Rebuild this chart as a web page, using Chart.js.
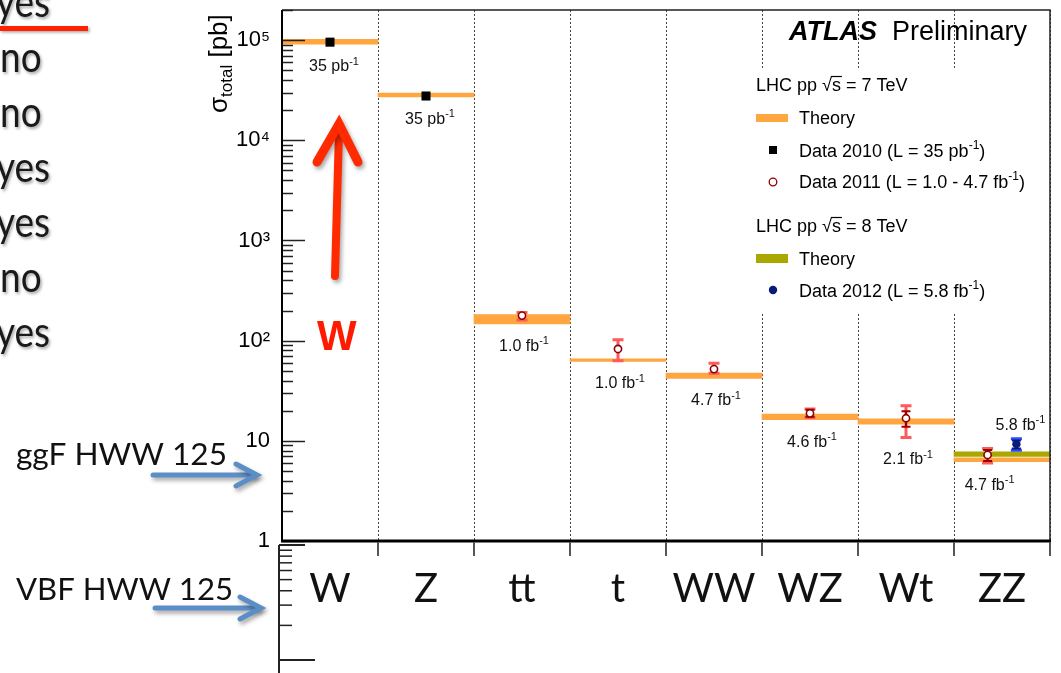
<!DOCTYPE html>
<html><head><meta charset="utf-8">
<script src="https://cdn.jsdelivr.net/npm/chart.js@4.4.1/dist/chart.umd.min.js"></script>
<style>html,body{margin:0;padding:0;background:#fff;overflow:hidden}#wrap{position:relative;width:1061px;height:673px}</style>
</head><body><div id="wrap"><canvas id="c" width="1061" height="673"></canvas></div>
<script>
// ---------- data (pb) ----------
const categories = ['W', 'Z', 'tt', 't', 'WW', 'WZ', 'Wt', 'ZZ'];
const theory7Low  = [91000, 27100, 147, 62, 42.0, 16.3, 14.7, 6.20];
const theory7High = [102000, 29700, 182, 66, 47.5, 18.5, 16.6, 6.75];
const theory8Low  = [null, null, null, null, null, null, null, 6.97];
const theory8High = [null, null, null, null, null, null, null, 7.76];
const data2010 = [95500, 27700, null, null, null, null, null, null];
const data2011 = [null, null, 178, 82.6, 52.0, 18.8, 16.8, 7.24];
const err2011Lo = [null, null, 161, 63, 47.3, 17.1, 10.8, 6.0];
const err2011Hi = [null, null, 191, 102, 59.4, 20.8, 22.4, 8.4];
const stat2011Lo = [null, null, null, null, null, 17.4, 13.8, 6.3];
const stat2011Hi = [null, null, null, null, null, 20.4, 19.7, 8.1];
const data2012 = [null, null, null, null, null, null, null, 9.27];
const err2012Lo = [null, null, null, null, null, null, null, 8.07];
const err2012Hi = [null, null, null, null, null, null, null, 10.5];
const stat2012Lo = [null, null, null, null, null, null, null, 8.4];
const stat2012Hi = [null, null, null, null, null, null, null, 10.1];
const lumi2010 = ['35 pb', '35 pb', null, null, null, null, null, null];
const lumi2011 = [null, null, '1.0 fb', '1.0 fb', '4.7 fb', '4.6 fb', '2.1 fb', '4.7 fb'];
const lumi2012 = [null, null, null, null, null, null, null, '5.8 fb'];
const yTickValues = [1, 10, 100, 1000, 10000, 100000];
const slideList = ['yes', 'no', 'no', 'yes', 'yes', 'no', 'yes'];
const legendTexts = {
  head7: 'LHC pp √s = 7 TeV', head8: 'LHC pp √s = 8 TeV', theory: 'Theory',
  d2010: ['Data 2010 (L = 35 pb', ')'], d2011: ['Data 2011 (L = 1.0 - 4.7 fb', ')'], d2012: ['Data 2012 (L = 5.8 fb', ')']
};

// ---------- helpers ----------
const FONT = '"Liberation Sans", Arial, sans-serif';
const binX = i => i + 0.5;
const x2011 = i => binX(i) - (data2012[i] != null ? 0.15 : 0);
const x2012 = i => binX(i) + (data2011[i] != null ? 0.15 : 0);
const supMap = {'0':'⁰','1':'¹','2':'²','3':'³','4':'⁴','5':'⁵','6':'⁶','7':'⁷','8':'⁸','9':'⁹'};
function tickLabel(v) {
  const e = Math.round(Math.log10(v));
  if (e === 0) return '1';
  if (e === 1) return '10';
  return '10' + String(e).split('').map(c => supMap[c]).join('');
}
function textSup(ctx, base, sup, after, x, y, size, align) {
  ctx.font = size + 'px ' + FONT;
  const wb = ctx.measureText(base).width;
  const ss = Math.round(size * 0.68);
  ctx.font = ss + 'px ' + FONT;
  const ws = ctx.measureText(sup).width;
  ctx.font = size + 'px ' + FONT;
  const wa = after ? ctx.measureText(after).width : 0;
  const w = wb + ws + wa;
  let x0 = align === 'center' ? x - w / 2 : x;
  ctx.textAlign = 'left';
  ctx.fillText(base, x0, y);
  ctx.font = ss + 'px ' + FONT;
  ctx.fillText(sup, x0 + wb, y - size * 0.42);
  if (after) { ctx.font = size + 'px ' + FONT; ctx.fillText(after, x0 + wb + ws, y); }
  return w;
}
function fitText(ctx, text, x, y, font, hscale) {
  ctx.save(); ctx.font = font; ctx.translate(x, y); ctx.scale(hscale, 1);
  ctx.textAlign = 'left'; ctx.fillText(text, 0, 0); ctx.restore();
}
function fitWidth(ctx, text, x, y, font, width) {
  ctx.save(); ctx.font = font; const m = ctx.measureText(text).width;
  ctx.translate(x, y); ctx.scale(width / m, 1); ctx.textAlign = 'left'; ctx.fillText(text, 0, 0); ctx.restore();
}
function arrowLine(ctx, x1, y1, x2, y2, hx, hy, color, lw, headLw) {
  ctx.save();
  ctx.strokeStyle = color; ctx.lineCap = 'round'; ctx.lineJoin = 'miter';
  ctx.shadowColor = 'rgba(0,0,0,0.35)'; ctx.shadowBlur = 4; ctx.shadowOffsetX = 2; ctx.shadowOffsetY = 3;
  ctx.lineWidth = lw;
  ctx.beginPath(); ctx.moveTo(x1, y1); ctx.lineTo(x2, y2); ctx.stroke();
  ctx.lineWidth = headLw;
  ctx.beginPath(); ctx.moveTo(hx[0], hy[0]); ctx.lineTo(hx[1], hy[1]); ctx.lineTo(hx[2], hy[2]); ctx.stroke();
  ctx.restore();
}

// ---------- error bars ----------
function drawErrors(chart, xf, vals, lo, hi, slo, shi, outer, inner) {
  const ctx = chart.ctx, xs = chart.scales.x, ys = chart.scales.y;
  ctx.save(); ctx.lineCap = 'butt';
  vals.forEach((v, i) => {
    if (v == null || lo[i] == null) return;
    const px = xs.getPixelForValue(xf(i));
    const a = ys.getPixelForValue(lo[i]), b = ys.getPixelForValue(hi[i]);
    ctx.strokeStyle = outer; ctx.lineWidth = 3;
    ctx.beginPath(); ctx.moveTo(px, a); ctx.lineTo(px, b);
    ctx.moveTo(px - 5.5, a); ctx.lineTo(px + 5.5, a); ctx.moveTo(px - 5.5, b); ctx.lineTo(px + 5.5, b); ctx.stroke();
    if (slo[i] != null) {
      const c = ys.getPixelForValue(slo[i]), d = ys.getPixelForValue(shi[i]);
      ctx.strokeStyle = inner; ctx.lineWidth = 2;
      ctx.beginPath(); ctx.moveTo(px, c); ctx.lineTo(px, d);
      ctx.moveTo(px - 4.5, c); ctx.lineTo(px + 4.5, c); ctx.moveTo(px - 4.5, d); ctx.lineTo(px + 4.5, d); ctx.stroke();
    }
  });
  ctx.restore();
}

const errorPlugin = {
  id: 'errorBars',
  beforeDatasetDraw(chart, args) {
    const lab = chart.data.datasets[args.index].label;
    if (lab === 'Data 2011') drawErrors(chart, x2011, data2011, err2011Lo, err2011Hi, stat2011Lo, stat2011Hi, '#ff5a5a', '#9a0000');
    if (lab === 'Data 2012') drawErrors(chart, x2012, data2012, err2012Lo, err2012Hi, stat2012Lo, stat2012Hi, '#2f4bff', '#0a1a7a');
  }
};

// ---------- decorations / slide ----------
const slidePlugin = {
  id: 'slide',
  afterDraw(chart) {
    const ctx = chart.ctx, ca = chart.chartArea, xs = chart.scales.x, ys = chart.scales.y;
    ctx.save();
    // inward y ticks
    ctx.strokeStyle = '#222'; ctx.lineWidth = 1.5;
    for (let d = 0; d <= 5; d++) {
      for (let k = 1; k <= 9; k++) {
        const v = k * Math.pow(10, d);
        if (v > ys.max) continue;
        const py = Math.round(ys.getPixelForValue(v)) + 0.5;
        const len = k === 1 ? 23 : 11;
        ctx.beginPath(); ctx.moveTo(ca.left, py); ctx.lineTo(ca.left + len, py); ctx.stroke();
      }
    }
    // frame
    ctx.strokeStyle = '#222'; ctx.lineWidth = 1.5;
    ctx.beginPath(); ctx.moveTo(ca.left, ca.top); ctx.lineTo(ca.right, ca.top); ctx.lineTo(ca.right, ca.bottom); ctx.stroke();
    ctx.strokeStyle = '#000'; ctx.lineWidth = 2;
    ctx.beginPath(); ctx.moveTo(ca.left, ca.top); ctx.lineTo(ca.left, ca.bottom); ctx.stroke();
    ctx.lineWidth = 3;
    ctx.beginPath(); ctx.moveTo(ca.left - 1, ca.bottom); ctx.lineTo(ca.right + 1, ca.bottom); ctx.stroke();
    // ticks below x axis at bin edges
    ctx.strokeStyle = '#555'; ctx.lineWidth = 2;
    for (let i = 1; i <= categories.length; i++) {
      const px = xs.getPixelForValue(i);
      ctx.beginPath(); ctx.moveTo(px, ca.bottom + 1); ctx.lineTo(px, ca.bottom + 15); ctx.stroke();
    }
    // lower mini log axis (slide fragment)
    const mx = ca.left - 3, mTop = ca.bottom + 4, mBot = ca.bottom + 119;
    ctx.strokeStyle = '#222'; ctx.lineWidth = 2;
    ctx.beginPath(); ctx.moveTo(mx, mTop); ctx.lineTo(mx, 673); ctx.stroke();
    ctx.beginPath(); ctx.moveTo(mx, mTop); ctx.lineTo(mx + 26, mTop); ctx.stroke();
    ctx.beginPath(); ctx.moveTo(mx, mBot); ctx.lineTo(mx + 36, mBot); ctx.stroke();
    ctx.lineWidth = 1.5;
    for (let k = 2; k <= 9; k++) {
      const py = mBot - Math.log10(k) * (mBot - mTop);
      ctx.beginPath(); ctx.moveTo(mx, py); ctx.lineTo(mx + 13, py); ctx.stroke();
    }

    // y title
    ctx.fillStyle = '#000'; ctx.textBaseline = 'alphabetic';
    ctx.save(); ctx.translate(227, 113); ctx.rotate(-Math.PI / 2);
    ctx.font = '26px ' + FONT; ctx.textAlign = 'left';
    ctx.fillText('σ', 0, 0); const w1 = ctx.measureText('σ').width;
    ctx.font = '17px ' + FONT; ctx.fillText('total', w1, 5); const w2 = ctx.measureText('total').width;
    ctx.font = '26px ' + FONT; ctx.fillText(' [pb]', w1 + w2, 0);
    ctx.restore();

    // luminosity labels
    ctx.fillStyle = '#111';
    categories.forEach((c, i) => {
      const bandBottom = ys.getPixelForValue(theory7Low[i]);
      if (lumi2010[i]) {
        textSup(ctx, lumi2010[i], '-1', null, xs.getPixelForValue(binX(i)) + 4, bandBottom + 27, 16, 'center');
      }
      if (lumi2011[i]) {
        let bottom = bandBottom;
        if (err2011Lo[i] != null) bottom = Math.max(bottom, ys.getPixelForValue(err2011Lo[i]));
        textSup(ctx, lumi2011[i], '-1', null, xs.getPixelForValue(x2011(i)) + 2, bottom + 27, 16, 'center');
      }
      if (lumi2012[i]) {
        const top = ys.getPixelForValue(err2012Hi[i]);
        textSup(ctx, lumi2012[i], '-1', null, xs.getPixelForValue(x2012(i)) + 4, top - 9, 16, 'center');
      }
    });

    // ATLAS label
    ctx.fillStyle = '#000';
    ctx.font = 'italic bold 27px ' + FONT; ctx.textAlign = 'left';
    ctx.fillText('ATLAS', 789, 40);
    ctx.font = '27px ' + FONT; ctx.fillText('Preliminary', 892, 40);

    // legend box
    ctx.fillStyle = '#fff'; ctx.fillRect(748, 68, 300, 244);
    ctx.fillStyle = '#000';
    const lx = 756, tx = 799;
    function head(txt, y) {
      ctx.font = '18px ' + FONT; ctx.textAlign = 'left';
      ctx.fillText(txt, lx, y);
      const pre = txt.slice(0, txt.indexOf('√') + 1);
      const xs0 = lx + ctx.measureText(pre).width, xs1 = lx + ctx.measureText(pre + 's').width;
      ctx.strokeStyle = '#000'; ctx.lineWidth = 1.2;
      ctx.beginPath(); ctx.moveTo(xs0 - 1, y - 14.5); ctx.lineTo(xs1 + 1, y - 14.5); ctx.stroke();
    }
    head(legendTexts.head7, 91);
    ctx.fillStyle = '#ffa640'; ctx.fillRect(lx, 114, 32, 8);
    ctx.fillStyle = '#000'; ctx.font = '18px ' + FONT; ctx.fillText(legendTexts.theory, tx, 124);
    ctx.fillRect(769, 146, 8, 8);
    textSup(ctx, legendTexts.d2010[0], '-1', legendTexts.d2010[1], tx, 157, 18, 'left');
    ctx.strokeStyle = '#8b0000'; ctx.lineWidth = 1.3; ctx.fillStyle = '#fff';
    ctx.beginPath(); ctx.arc(773, 182, 3.8, 0, Math.PI * 2); ctx.fill(); ctx.stroke();
    ctx.fillStyle = '#000';
    textSup(ctx, legendTexts.d2011[0], '-1', legendTexts.d2011[1], tx, 188, 18, 'left');
    head(legendTexts.head8, 232);
    ctx.fillStyle = '#a8a800'; ctx.fillRect(lx, 254, 32, 9);
    ctx.fillStyle = '#000'; ctx.font = '18px ' + FONT; ctx.fillText(legendTexts.theory, tx, 265);
    ctx.fillStyle = '#0a1a7a'; ctx.beginPath(); ctx.arc(773, 290, 4.2, 0, Math.PI * 2); ctx.fill();
    ctx.fillStyle = '#000';
    textSup(ctx, legendTexts.d2012[0], '-1', legendTexts.d2012[1], tx, 297, 18, 'left');

    // ---- slide annotations ----
    ctx.save();
    ctx.shadowColor = 'rgba(0,0,0,0.35)'; ctx.shadowBlur = 3; ctx.shadowOffsetX = 1.5; ctx.shadowOffsetY = 1.5;
    ctx.fillStyle = '#1a1a1a';
    slideList.forEach((t, i) => {
      fitText(ctx, t, t === 'yes' ? -4 : 0, 17 + 55 * i, '43px Lato', 0.86);
    });
    ctx.fillStyle = '#ff2200'; ctx.fillRect(0, 26, 88, 5);
    ctx.restore();

    ctx.fillStyle = '#111';
    fitWidth(ctx, 'ggF HWW 125', 16, 465, '31px Lato', 211);
    fitWidth(ctx, 'VBF HWW 125', 16, 600, '31px Lato', 217);
    arrowLine(ctx, 153, 475, 254, 475, [236, 257, 236], [464, 475, 486], '#5b8ec7', 5, 5);
    arrowLine(ctx, 155, 608, 258, 608, [240, 261, 240], [597, 608, 619], '#5b8ec7', 5, 5);

    arrowLine(ctx, 335, 276, 339, 130, [317, 339, 358], [162, 124, 162], '#ff2a00', 8, 9);
    ctx.fillStyle = '#ff1a00'; ctx.font = 'bold 42px ' + FONT; ctx.textAlign = 'left';
    ctx.fillText('W', 317, 350);
    ctx.restore();
  }
};

Chart.defaults.font.family = FONT;
const common = { grouped: false, barPercentage: 1, categoryPercentage: 1, borderWidth: 0 };
new Chart(document.getElementById('c'), {
  type: 'bar',
  data: {
    datasets: [
      Object.assign({ label: 'Theory 7 TeV', backgroundColor: '#ffa640', order: 5,
        data: categories.map((c, i) => ({ x: binX(i), y: [theory7Low[i], theory7High[i]] })) }, common),
      Object.assign({ label: 'Theory 8 TeV', backgroundColor: '#a8a800', order: 4,
        data: categories.map((c, i) => theory8Low[i] == null ? null : ({ x: binX(i), y: [theory8Low[i], theory8High[i]] })).filter(Boolean) }, common),
      { type: 'line', label: 'Data 2010', showLine: false, order: 3,
        data: categories.map((c, i) => data2010[i] == null ? null : ({ x: binX(i), y: data2010[i] })).filter(Boolean),
        pointStyle: 'rect', pointRadius: 6.4, pointBackgroundColor: '#000', pointBorderWidth: 0 },
      { type: 'line', label: 'Data 2011', showLine: false, order: 2,
        data: categories.map((c, i) => data2011[i] == null ? null : ({ x: x2011(i), y: data2011[i] })).filter(Boolean),
        pointStyle: 'circle', pointRadius: 3.6, pointBackgroundColor: '#fff', pointBorderColor: '#8b0000', pointBorderWidth: 1.6 },
      { type: 'line', label: 'Data 2012', showLine: false, order: 1,
        data: categories.map((c, i) => data2012[i] == null ? null : ({ x: x2012(i), y: data2012[i] })).filter(Boolean),
        pointStyle: 'circle', pointRadius: 4.2, pointBackgroundColor: '#0a1a7a', pointBorderWidth: 0 }
    ]
  },
  options: {
    responsive: false, animation: false, devicePixelRatio: 1,
    layout: { padding: { left: 0, right: 11, top: 10, bottom: 32 } },
    plugins: { legend: { display: false }, tooltip: { enabled: false } },
    scales: {
      x: { type: 'linear', min: 0, max: categories.length, offset: false,
        ticks: { display: false, stepSize: 1 },
        grid: { color: '#444', lineWidth: 1, drawTicks: false, offset: false },
        border: { display: false, dash: [2, 2] },
        afterFit(s) { s.height = 0; s.paddingLeft = 0; s.paddingRight = 0; } },
      xl: { type: 'category', labels: categories, position: 'bottom', offset: true,
        grid: { display: false, drawTicks: false, offset: true }, border: { display: false },
        ticks: { font: { family: 'Lato', size: 40 }, color: '#111', padding: 24, maxRotation: 0, autoSkip: false },
        afterFit(s) { s.height = 100; s.paddingLeft = 0; s.paddingRight = 0; } },
      y: { type: 'logarithmic', min: 1, max: 2e5,
        afterBuildTicks(s) { s.ticks = yTickValues.map(v => ({ value: v })); },
        ticks: { callback: v => tickLabel(v), font: { size: 22 }, color: '#000', padding: 12 },
        grid: { display: false, drawTicks: false }, border: { display: false },
        afterFit(s) { s.width = 282; s.paddingTop = 0; s.paddingBottom = 0; } }
    }
  },
  plugins: [errorPlugin, slidePlugin]
});
</script>
</body></html>
